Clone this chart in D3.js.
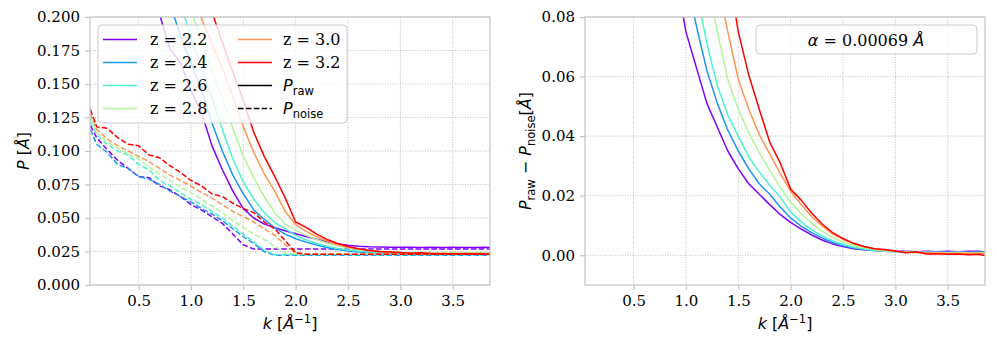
<!DOCTYPE html>
<html>
<head>
<meta charset="utf-8">
<script src="https://cdn.jsdelivr.net/npm/d3@7"></script>
<style>
  body { margin: 0; background: #fff; }
  svg { display: block; }
  .tick text { font-family: "DejaVu Serif", serif; font-size: 15px; fill: #000; }
</style>
</head>
<body>
<svg width="997" height="345"></svg>
<script>
// wavenumber grid (Å^-1)
var kVals = [0.04, 0.1, 0.2, 0.3, 0.4, 0.5, 0.6, 0.7, 0.8, 0.9, 1.0, 1.1, 1.2, 1.3, 1.4, 1.5, 1.6, 1.7, 1.8, 1.9,
             2.0, 2.1, 2.2, 2.3, 2.4, 2.5, 2.6, 2.7, 2.8, 2.9, 3.0, 3.1, 3.2, 3.3, 3.4, 3.5, 3.6, 3.7, 3.8, 3.86];

var zLabels = ['z = 2.2', 'z = 2.4', 'z = 2.6', 'z = 2.8', 'z = 3.0', 'z = 3.2'];
var colors = ['#8000ff', '#1a96f3', '#4df3ce', '#b3f396', '#ff964f', '#ff0000'];

var xTicks = [0.5, 1.0, 1.5, 2.0, 2.5, 3.0, 3.5];
var yTicksLeft = [0, 0.025, 0.05, 0.075, 0.1, 0.125, 0.15, 0.175, 0.2];
var yTicksRight = [0, 0.02, 0.04, 0.06, 0.08];
var alphaText = '0.00069';

// P_raw per redshift (null = far above the plot)
var rawP = [
  [null, null, null, null, null, null, 0.232, 0.202, 0.176, 0.166, 0.145, 0.129, 0.104, 0.086, 0.070, 0.057, 0.050, 0.0455, 0.0428, 0.0405,
   0.0382, 0.0362, 0.0342, 0.0322, 0.0307, 0.0296, 0.0289, 0.0285, 0.0283, 0.0282, 0.0281, 0.0281, 0.0280, 0.0281, 0.0280, 0.0281, 0.0280, 0.0280, 0.0281, 0.0280],
  [null, null, null, null, null, null, null, 0.236, 0.210, 0.186, 0.166, 0.146, 0.121, 0.100, 0.082, 0.068, 0.056, 0.049, 0.0427, 0.038,
   0.0345, 0.032, 0.0298, 0.028, 0.0265, 0.0254, 0.0247, 0.0242, 0.0239, 0.0236, 0.0234, 0.0233, 0.0232, 0.0232, 0.0231, 0.0232, 0.0231, 0.0231, 0.0232, 0.0231],
  [null, null, null, null, null, null, null, null, 0.236, 0.210, 0.185, 0.162, 0.140, 0.116, 0.094, 0.077, 0.064, 0.054, 0.0465, 0.042,
   0.037, 0.0336, 0.031, 0.029, 0.0273, 0.0261, 0.0253, 0.0247, 0.0243, 0.024, 0.0238, 0.0237, 0.0236, 0.0236, 0.0236, 0.0235, 0.0236, 0.0235, 0.0235, 0.0236],
  [null, null, null, null, null, null, null, null, null, 0.232, 0.205, 0.182, 0.160, 0.139, 0.117, 0.096, 0.080, 0.066, 0.054, 0.0455,
   0.041, 0.037, 0.034, 0.0312, 0.0292, 0.0276, 0.0265, 0.0257, 0.0251, 0.0247, 0.0244, 0.0243, 0.0242, 0.0242, 0.0241, 0.0242, 0.0241, 0.0241, 0.0242, 0.0241],
  [null, null, null, null, null, null, null, null, null, null, 0.232, 0.199, 0.180, 0.162, 0.141, 0.118, 0.099, 0.083, 0.070, 0.055,
   0.045, 0.040, 0.036, 0.0328, 0.030, 0.0282, 0.0268, 0.0258, 0.025, 0.0245, 0.0241, 0.0239, 0.0238, 0.0237, 0.0237, 0.0236, 0.0236, 0.0236, 0.0235, 0.0236],
  [null, null, null, null, null, null, null, null, null, null, null, 0.235, 0.204, 0.181, 0.159, 0.138, 0.114, 0.096, 0.081, 0.065,
   0.047, 0.043, 0.038, 0.034, 0.031, 0.0288, 0.0270, 0.0258, 0.0250, 0.0246, 0.0242, 0.0237, 0.0240, 0.0234, 0.0234, 0.0233, 0.0233, 0.0232, 0.0232, 0.0230]
];

// P_noise per redshift
var noiseP = [
  [0.119, 0.110, 0.101, 0.093, 0.087, 0.081, 0.080, 0.074, 0.071, 0.066, 0.060, 0.056, 0.051, 0.046, 0.038, 0.030, 0.0268, 0.0268, 0.0268, 0.0268,
   0.0268, 0.0268, 0.0268, 0.0268, 0.0268, 0.0268, 0.0268, 0.0268, 0.0268, 0.0268, 0.0268, 0.0268, 0.0268, 0.0268, 0.0268, 0.0268, 0.0268, 0.0268, 0.0268, 0.0268],
  [0.116, 0.105, 0.099, 0.090, 0.087, 0.081, 0.079, 0.075, 0.070, 0.066, 0.062, 0.057, 0.053, 0.048, 0.042, 0.036, 0.031, 0.025, 0.0222, 0.0222,
   0.0222, 0.0222, 0.0222, 0.0222, 0.0222, 0.0222, 0.0222, 0.0222, 0.0222, 0.0222, 0.0222, 0.0222, 0.0222, 0.0222, 0.0222, 0.0222, 0.0222, 0.0222, 0.0222, 0.0222],
  [0.122, 0.112, 0.105, 0.100, 0.097, 0.090, 0.086, 0.078, 0.074, 0.069, 0.064, 0.060, 0.055, 0.050, 0.044, 0.038, 0.032, 0.026, 0.0226, 0.0226,
   0.0226, 0.0226, 0.0226, 0.0226, 0.0226, 0.0226, 0.0226, 0.0226, 0.0226, 0.0226, 0.0226, 0.0226, 0.0226, 0.0226, 0.0226, 0.0226, 0.0226, 0.0226, 0.0226, 0.0226],
  [0.125, 0.114, 0.107, 0.102, 0.098, 0.094, 0.088, 0.083, 0.078, 0.073, 0.069, 0.064, 0.059, 0.054, 0.048, 0.043, 0.038, 0.034, 0.029, 0.024,
   0.0232, 0.0232, 0.0232, 0.0232, 0.0232, 0.0232, 0.0232, 0.0232, 0.0232, 0.0232, 0.0232, 0.0232, 0.0232, 0.0232, 0.0232, 0.0232, 0.0232, 0.0232, 0.0232, 0.0232],
  [0.128, 0.116, 0.109, 0.104, 0.100, 0.096, 0.092, 0.087, 0.082, 0.078, 0.074, 0.069, 0.065, 0.060, 0.055, 0.051, 0.047, 0.042, 0.037, 0.030,
   0.024, 0.0229, 0.0229, 0.0229, 0.0229, 0.0229, 0.0229, 0.0229, 0.0229, 0.0229, 0.0229, 0.0229, 0.0229, 0.0229, 0.0229, 0.0229, 0.0229, 0.0229, 0.0229, 0.0229],
  [0.131, 0.118, 0.117, 0.110, 0.105, 0.104, 0.097, 0.095, 0.089, 0.084, 0.078, 0.074, 0.068, 0.066, 0.061, 0.057, 0.054, 0.047, 0.042, 0.033,
   0.024, 0.0230, 0.0230, 0.0230, 0.0230, 0.0230, 0.0230, 0.0230, 0.0230, 0.0230, 0.0230, 0.0230, 0.0230, 0.0230, 0.0230, 0.0230, 0.0230, 0.0230, 0.0230, 0.0230]
];

// P_raw - P_noise per redshift (right panel)
var diffP = [
  [null, null, null, null, null, null, null, null, 0.118, 0.095, 0.075, 0.063, 0.051, 0.043, 0.035, 0.029, 0.024, 0.0205, 0.017, 0.0137,
   0.0110, 0.0088, 0.0068, 0.0051, 0.0038, 0.0029, 0.0022, 0.0018, 0.0016, 0.0014, 0.0013, 0.0013, 0.0012, 0.0013, 0.0012, 0.0013, 0.0012, 0.0013, 0.0013, 0.0011],
  [null, null, null, null, null, null, null, null, null, 0.115, 0.093, 0.077, 0.062, 0.051, 0.042, 0.035, 0.029, 0.024, 0.0205, 0.0162,
   0.0125, 0.0098, 0.0076, 0.0058, 0.0043, 0.0032, 0.0024, 0.0019, 0.0016, 0.0013, 0.0012, 0.0011, 0.0010, 0.0010, 0.0009, 0.0010, 0.0009, 0.0009, 0.0010, 0.0009],
  [null, null, null, null, null, null, null, null, null, null, 0.110, 0.089, 0.071, 0.057, 0.047, 0.040, 0.033, 0.028, 0.0235, 0.0195,
   0.0145, 0.0112, 0.0086, 0.0065, 0.0048, 0.0036, 0.0027, 0.0021, 0.0017, 0.0014, 0.0012, 0.0011, 0.0010, 0.0010, 0.0009, 0.0009, 0.0010, 0.0009, 0.0009, 0.0009],
  [null, null, null, null, null, null, null, null, null, null, null, 0.112, 0.092, 0.075, 0.059, 0.049, 0.041, 0.0345, 0.0285, 0.0228,
   0.0178, 0.0140, 0.0108, 0.0081, 0.0060, 0.0044, 0.0033, 0.0025, 0.0019, 0.0015, 0.0012, 0.0011, 0.0010, 0.0009, 0.0009, 0.0008, 0.0009, 0.0008, 0.0008, 0.0008],
  [null, null, null, null, null, null, null, null, null, null, null, null, 0.112, 0.093, 0.075, 0.059, 0.049, 0.0405, 0.034, 0.0275,
   0.0215, 0.0170, 0.0130, 0.0098, 0.0072, 0.0053, 0.0039, 0.0029, 0.0022, 0.0017, 0.0013, 0.0010, 0.0008, 0.0008, 0.0007, 0.0007, 0.0006, 0.0007, 0.0006, 0.0006],
  [null, null, null, null, null, null, null, null, null, null, null, null, null, 0.118, 0.097, 0.075, 0.0605, 0.049, 0.038, 0.031,
   0.0222, 0.0185, 0.0142, 0.0105, 0.0076, 0.0056, 0.0040, 0.0029, 0.0022, 0.0019, 0.0014, 0.0008, 0.0012, 0.0004, 0.0005, 0.0003, 0.0004, 0.0002, 0.0003, -0.0002]
];

var svg = d3.select('svg');
var yTop = 17, yBottom = 285;
var spineColor = '#c4c4c4';

function series(vals) {
    return vals.map(function(v, i) { return [kVals[i], v]; });
}

function panel(id, left, right, yDomain, yTicks, yFmt) {
    var x = d3.scaleLinear().domain([0.036, 3.856]).range([left, right]);
    var y = d3.scaleLinear().domain(yDomain).range([yBottom, yTop]);

    svg.append('clipPath').attr('id', id)
        .append('rect').attr('x', left).attr('y', yTop).attr('width', right - left).attr('height', yBottom - yTop);

    var g = svg.append('g');
    // dotted grid
    g.selectAll('.gx').data(xTicks).enter().append('line')
        .attr('x1', d => x(d)).attr('x2', d => x(d)).attr('y1', yTop).attr('y2', yBottom)
        .attr('stroke', '#b0b0b0').attr('stroke-width', 0.8).attr('stroke-dasharray', '1,1.5');
    g.selectAll('.gy').data(yTicks).enter().append('line')
        .attr('x1', left).attr('x2', right).attr('y1', d => y(d)).attr('y2', d => y(d))
        .attr('stroke', '#b0b0b0').attr('stroke-width', 0.8).attr('stroke-dasharray', '1,1.5');

    var xa = svg.append('g').attr('transform', 'translate(0,' + yBottom + ')')
        .call(d3.axisBottom(x).tickValues(xTicks).tickFormat(d3.format('.1f')).tickSize(5).tickPadding(5));
    var ya = svg.append('g').attr('transform', 'translate(' + left + ',0)')
        .call(d3.axisLeft(y).tickValues(yTicks).tickFormat(d3.format(yFmt)).tickSize(5).tickPadding(5));
    [xa, ya].forEach(function(a) {
        a.select('.domain').remove();
        a.selectAll('.tick line').attr('stroke', spineColor).attr('stroke-width', 1.2);
    });

    var plot = svg.append('g').attr('clip-path', 'url(#' + id + ')');
    var line = d3.line().defined(d => d[1] !== null).x(d => x(d[0])).y(d => y(d[1]));
    return { x: x, y: y, plot: plot, line: line, left: left, right: right };
}

function frame(p) {
    svg.append('rect').attr('x', p.left).attr('y', yTop).attr('width', p.right - p.left).attr('height', yBottom - yTop)
        .attr('fill', 'none').attr('stroke', spineColor).attr('stroke-width', 1.2);
}

// ---------- left panel ----------
var L = panel('clipL', 90, 490, [0, 0.2], yTicksLeft, '.3f');
zLabels.forEach(function(z, i) {
    L.plot.append('path').attr('d', L.line(series(rawP[i])))
        .attr('fill', 'none').attr('stroke', colors[i]).attr('stroke-width', 1.5).attr('stroke-linejoin', 'round');
    L.plot.append('path').attr('d', L.line(series(noiseP[i])))
        .attr('fill', 'none').attr('stroke', colors[i]).attr('stroke-width', 1.5).attr('stroke-dasharray', '5.5,2.4');
});
frame(L);

// left legend
var leg = svg.append('g');
leg.append('rect').attr('x', 98).attr('y', 25).attr('width', 249).attr('height', 98).attr('rx', 4)
    .attr('fill', 'white').attr('fill-opacity', 0.8).attr('stroke', '#cccccc').attr('stroke-width', 1);
zLabels.forEach(function(z, i) {
    var col = i < 4 ? 0 : 1;
    var row = i < 4 ? i : i - 4;
    var lx = col ? 238 : 103, tx = col ? 283 : 150, ly = 39.5 + row * 23;
    leg.append('line').attr('x1', lx).attr('x2', lx + 34).attr('y1', ly).attr('y2', ly)
        .attr('stroke', colors[i]).attr('stroke-width', 1.5);
    leg.append('text').attr('x', tx).attr('y', ly).attr('dy', '0.36em')
        .style('font-family', 'DejaVu Serif').style('font-size', '16px').text(z);
});
[['raw', null], ['noise', '5.5,2.4']].forEach(function(s, j) {
    var ly = 39.5 + (2 + j) * 23;
    leg.append('line').attr('x1', 238).attr('x2', 272).attr('y1', ly).attr('y2', ly)
        .attr('stroke', '#000').attr('stroke-width', 1.5).attr('stroke-dasharray', s[1]);
    var t = leg.append('text').attr('x', 283).attr('y', ly).attr('dy', '0.36em')
        .style('font-family', 'DejaVu Sans').style('font-size', '16px');
    t.append('tspan').style('font-style', 'italic').text('P');
    t.append('tspan').attr('dy', 4).style('font-size', '11.5px').text(s[0]);
});

// ---------- right panel ----------
var R = panel('clipR', 585, 985, [-0.01, 0.08], yTicksRight, '.2f');
zLabels.forEach(function(z, i) {
    R.plot.append('path').attr('d', R.line(series(diffP[i])))
        .attr('fill', 'none').attr('stroke', colors[i]).attr('stroke-width', 1.5).attr('stroke-linejoin', 'round');
});
frame(R);

var leg2 = svg.append('g');
leg2.append('rect').attr('x', 756).attr('y', 25).attr('width', 221).attr('height', 29).attr('rx', 4)
    .attr('fill', 'white').attr('fill-opacity', 0.8).attr('stroke', '#cccccc').attr('stroke-width', 1);
var at = leg2.append('text').attr('x', 866).attr('y', 40).attr('dy', '0.36em').attr('text-anchor', 'middle')
    .style('font-family', 'DejaVu Sans').style('font-size', '16px');
at.append('tspan').style('font-style', 'italic').text('α');
at.append('tspan').text(' = ');
at.append('tspan').style('font-family', 'DejaVu Serif').text(' ' + alphaText + ' ');
at.append('tspan').style('font-style', 'italic').text('Å');

// ---------- axis labels ----------
function kLabel(cx) {
    var t = svg.append('text').attr('x', cx).attr('y', 329).attr('text-anchor', 'middle')
        .style('font-family', 'DejaVu Sans').style('font-size', '16px');
    t.append('tspan').style('font-style', 'italic').text('k');
    t.append('tspan').text(' [');
    t.append('tspan').style('font-style', 'italic').text('Å');
    t.append('tspan').attr('dy', -6).style('font-size', '11.5px').text('−1');
    t.append('tspan').attr('dy', 6).text(']');
}
kLabel(290);
kLabel(785);

var yl = svg.append('text').attr('transform', 'translate(29,151) rotate(-90)').attr('text-anchor', 'middle')
    .style('font-family', 'DejaVu Sans').style('font-size', '16px');
yl.append('tspan').style('font-style', 'italic').text('P');
yl.append('tspan').text(' [');
yl.append('tspan').style('font-style', 'italic').text('Å');
yl.append('tspan').text(']');

var yr = svg.append('text').attr('transform', 'translate(531,151) rotate(-90)').attr('text-anchor', 'middle')
    .style('font-family', 'DejaVu Sans').style('font-size', '16px');
yr.append('tspan').style('font-style', 'italic').text('P');
yr.append('tspan').attr('dy', 4).style('font-size', '11.5px').text('raw');
yr.append('tspan').attr('dy', -4).text(' − ');
yr.append('tspan').style('font-style', 'italic').text('P');
yr.append('tspan').attr('dy', 4).style('font-size', '11.5px').text('noise');
yr.append('tspan').attr('dy', -4).text('[');
yr.append('tspan').style('font-style', 'italic').text('Å');
yr.append('tspan').text(']');
</script>
</body>
</html>
